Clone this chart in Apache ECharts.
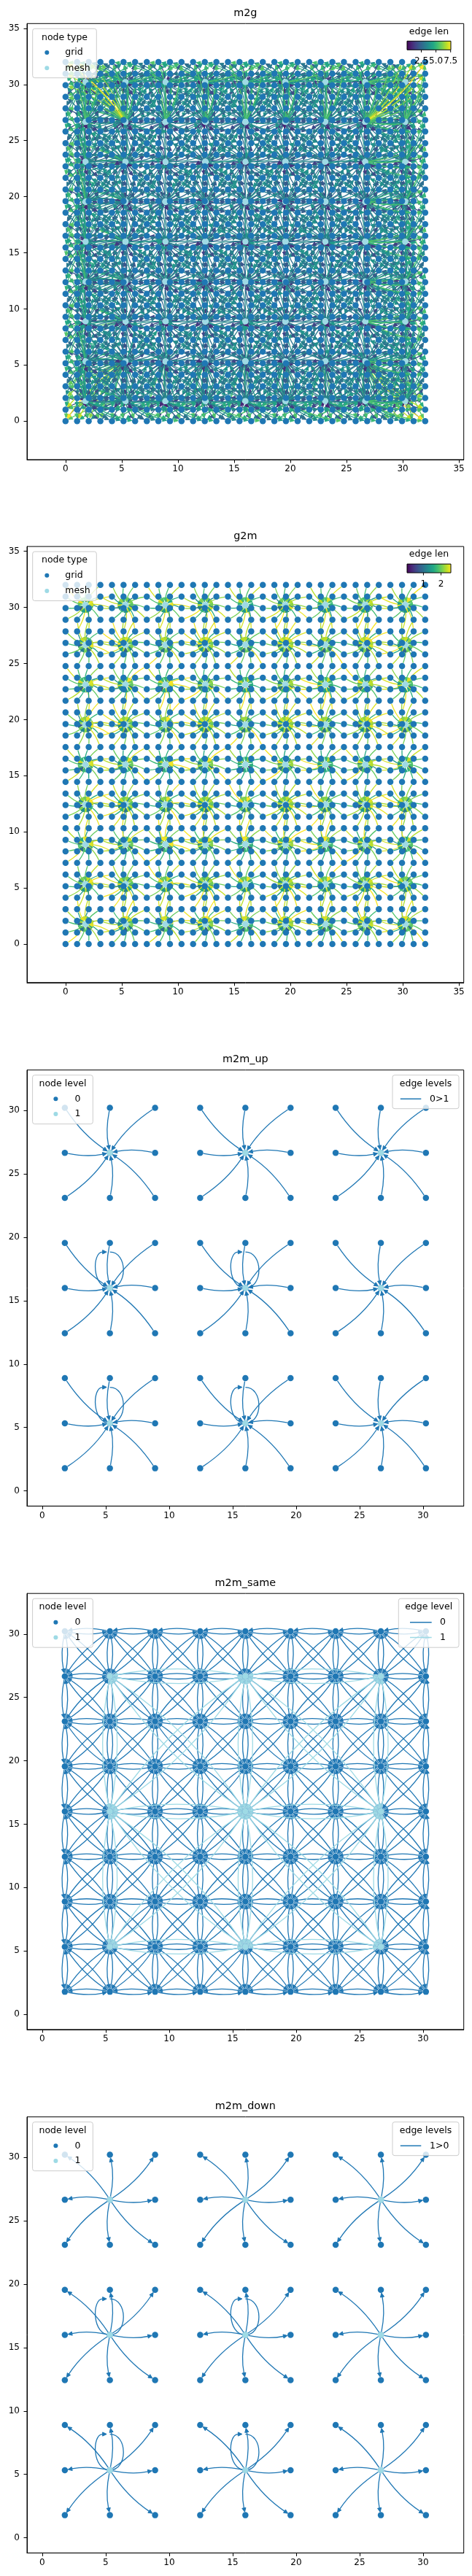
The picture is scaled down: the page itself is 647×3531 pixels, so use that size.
<!DOCTYPE html>
<html>
<head>
<meta charset="utf-8">
<script src="https://cdn.jsdelivr.net/npm/echarts@6/dist/echarts.min.js"></script>
<style>
html, body { margin: 0; padding: 0; background: #fff; }
#chart { width: 647px; height: 3531px; }
</style>
</head>
<body>
<div id="chart"></div>
<script>
// ---- data ----
// grid nodes: 32 x 32 points from 0 to 32
var gridCols = [0, 1.03, 2.06, 3.10, 4.13, 5.16, 6.19, 7.23, 8.26, 9.29, 10.32, 11.35, 12.39, 13.42, 14.45, 15.48,
                16.52, 17.55, 18.58, 19.61, 20.65, 21.68, 22.71, 23.74, 24.77, 25.81, 26.84, 27.87, 28.90, 29.94, 30.97, 32.00];
var gridRows = [0, 1.03, 2.06, 3.10, 4.13, 5.16, 6.19, 7.23, 8.26, 9.29, 10.32, 11.35, 12.39, 13.42, 14.45, 15.48,
                16.52, 17.55, 18.58, 19.61, 20.65, 21.68, 22.71, 23.74, 24.77, 25.81, 26.84, 27.87, 28.90, 29.94, 30.97, 32.00];
// mesh level 0 (9 x 9) and level 1 (3 x 3)
var meshCoords = [1.78, 5.33, 8.89, 12.44, 16.00, 19.56, 23.11, 26.67, 30.22];
var level1Coords = [5.33, 16.00, 26.67];
// level 0 / level 1 nodes that are the same node -> self loops
var loopNodes = [[5.33, 16.00], [16.00, 16.00], [5.33, 5.33], [16.00, 5.33]];
var m2gNeighbours = 4;      // each grid node gets its 4 nearest mesh nodes
var g2mRadius = 2.565;      // grid nodes within this distance feed a mesh node

var titles = ['m2g', 'g2m', 'm2m_up', 'm2m_same', 'm2m_down'];
var bigTicks = [0, 5, 10, 15, 20, 25, 30, 35];
var meshTicks = [0, 5, 10, 15, 20, 25, 30];
var m2gBarTicks = [2.5, 5.0, 7.5];
var m2gBarLabels = ['2.5', '5.0', '7.5'];
var g2mBarTicks = [1, 2];
var g2mBarLabels = ['1', '2'];
var upLegend = ['0>1'];
var sameLegend = ['0', '1'];
var downLegend = ['1>0'];

var viridis = ['#440154', '#482475', '#414487', '#355f8d', '#2a788e', '#21918c',
               '#22a884', '#44bf70', '#7ad151', '#bddf26', '#fde725'];
var DARK = '#1f77b4', LIGHT = '#9edae5';

// ---- layout ----
var AX_L = 37, AX_W = 598.7, AX_H = 597.7;
var tops = [32.3, 749.1, 1466.7, 2184.2, 2901.7];
var FONT = 'DejaVu Sans';
var NODE_R = 4.5, HEAD_L = 5.5, HEAD_W = 2.6, RAD = 0.1, EDGE_W = 1.3;

// ---- build nodes and edges ----
function cross(xs, ys) {
    var out = [];
    ys.forEach(function (y) { xs.forEach(function (x) { out.push([x, y]); }); });
    return out;
}
function dist(p, q) { return Math.sqrt((p[0] - q[0]) * (p[0] - q[0]) + (p[1] - q[1]) * (p[1] - q[1])); }

var gridNodes = cross(gridCols, gridRows);
var meshNodes = cross(meshCoords, meshCoords);
var topNodes = cross(level1Coords, level1Coords);

var m2gEdges = [];
gridNodes.forEach(function (g) {
    meshNodes.map(function (m) { return [dist(m, g), m]; })
        .sort(function (a, b) { return a[0] - b[0]; })
        .slice(0, m2gNeighbours)
        .forEach(function (n) { m2gEdges.push([n[1][0], n[1][1], g[0], g[1], n[0]]); });
});

var g2mEdges = [];
gridNodes.forEach(function (g) {
    meshNodes.forEach(function (m) {
        var d = dist(g, m);
        if (d <= g2mRadius) g2mEdges.push([g[0], g[1], m[0], m[1], d]);
    });
});

var upEdges = [], downEdges = [];
meshCoords.forEach(function (y, j) {
    meshCoords.forEach(function (x, i) {
        var p = [level1Coords[Math.floor(i / 3)], level1Coords[Math.floor(j / 3)]];
        if (dist([x, y], p) > 0.01) {
            upEdges.push([x, y, p[0], p[1], 0]);
            downEdges.push([p[0], p[1], x, y, 0]);
        }
    });
});

var sameEdges = [];
function neighbourEdges(coords, level) {
    var n = coords.length;
    for (var j = 0; j < n; j++) for (var i = 0; i < n; i++)
        for (var dj = -1; dj <= 1; dj++) for (var di = -1; di <= 1; di++) {
            if (!di && !dj) continue;
            var a = i + di, b = j + dj;
            if (a < 0 || b < 0 || a >= n || b >= n) continue;
            sameEdges.push([coords[i], coords[j], coords[a], coords[b], level]);
        }
}
neighbourEdges(meshCoords, 0);
neighbourEdges(level1Coords, 1);

function range(edges) {
    var lo = Infinity, hi = -Infinity;
    edges.forEach(function (e) { lo = Math.min(lo, e[4]); hi = Math.max(hi, e[4]); });
    return [lo, hi];
}
var m2gRange = range(m2gEdges), g2mRange = range(g2mEdges);

function hexRgb(h) { return [parseInt(h.substr(1, 2), 16), parseInt(h.substr(3, 2), 16), parseInt(h.substr(5, 2), 16)]; }
function viridisAt(t) {
    t = Math.max(0, Math.min(1, t));
    var f = t * (viridis.length - 1), k = Math.min(Math.floor(f), viridis.length - 2), r = f - k;
    var a = hexRgb(viridis[k]), b = hexRgb(viridis[k + 1]);
    return 'rgb(' + [0, 1, 2].map(function (c) { return Math.round(a[c] + (b[c] - a[c]) * r); }).join(',') + ')';
}
function lenColor(rng) { return function (v) { return viridisAt((v - rng[0]) / (rng[1] - rng[0])); }; }
function levelColor(v) { return v > 0.5 ? LIGHT : DARK; }

// ---- drawing helpers ----
function unit(x, y) { var n = Math.sqrt(x * x + y * y) || 1; return [x / n, y / n]; }

function makeEdgeRender(colorOf) {
    return function (params, api) {
        var a = api.coord([api.value(0), api.value(1)]);
        var b = api.coord([api.value(2), api.value(3)]);
        var dx = b[0] - a[0], dy = b[1] - a[1];
        if (Math.sqrt(dx * dx + dy * dy) < 2 * NODE_R + 1) return null;
        var color = colorOf(api.value(4));
        // matplotlib arc3 control point, in screen space
        var cp = [(a[0] + b[0]) / 2 - RAD * dy, (a[1] + b[1]) / 2 + RAD * dx];
        var u0 = unit(cp[0] - a[0], cp[1] - a[1]);
        var u1 = unit(b[0] - cp[0], b[1] - cp[1]);
        var s = [a[0] + u0[0] * NODE_R, a[1] + u0[1] * NODE_R];
        var tip = [b[0] - u1[0] * NODE_R, b[1] - u1[1] * NODE_R];
        var base = [tip[0] - u1[0] * HEAD_L, tip[1] - u1[1] * HEAD_L];
        var px = -u1[1] * HEAD_W, py = u1[0] * HEAD_W;
        return {
            type: 'group',
            children: [
                { type: 'bezierCurve', shape: { x1: s[0], y1: s[1], x2: base[0], y2: base[1], cpx1: cp[0], cpy1: cp[1] },
                  style: { stroke: color, fill: null, lineWidth: EDGE_W, opacity: 1 } },
                { type: 'polygon', shape: { points: [tip, [base[0] + px, base[1] + py], [base[0] - px, base[1] - py]] },
                  style: { fill: color, stroke: color, lineWidth: 1, opacity: 1 } }
            ]
        };
    };
}

var LOOP_H = 0.1 * (meshCoords[meshCoords.length - 1] - meshCoords[0]);
function loopRender(params, api) {
    var c = api.coord([api.value(0), api.value(1)]);
    var t = api.coord([api.value(0), api.value(1) + LOOP_H]);
    var w = api.size([LOOP_H / 2, 0])[0];
    var tipX = c[0] - NODE_R, ty = t[1];
    var st = { stroke: DARK, fill: null, lineWidth: EDGE_W };
    return {
        type: 'group',
        children: [
            { type: 'bezierCurve', shape: { x1: c[0], y1: ty, cpx1: c[0] + w, cpy1: ty, cpx2: c[0] + w, cpy2: c[1], x2: c[0], y2: c[1] }, style: st },
            { type: 'bezierCurve', shape: { x1: c[0], y1: c[1], cpx1: c[0] - w, cpy1: c[1], cpx2: c[0] - w, cpy2: ty, x2: tipX - HEAD_L, y2: ty }, style: st },
            { type: 'polygon', shape: { points: [[tipX, ty], [tipX - HEAD_L, ty - HEAD_W], [tipX - HEAD_L, ty + HEAD_W]] },
              style: { fill: DARK, stroke: DARK, lineWidth: 1 } }
        ]
    };
}

function edgeSeries(i, edges, colorOf) {
    return {
        type: 'custom', xAxisIndex: i, yAxisIndex: i, data: edges, silent: true,
        dimensions: ['x1', 'y1', 'x2', 'y2', 'c'],
        encode: { x: [0, 2], y: [1, 3] }, progressive: 0, clip: false,
        renderItem: makeEdgeRender(colorOf)
    };
}
function loopSeries(i) {
    return { type: 'custom', xAxisIndex: i, yAxisIndex: i, data: loopNodes, silent: true,
             encode: { x: 0, y: 1 }, clip: false, renderItem: loopRender };
}
function nodeSeries(i, nodes, color) {
    return { type: 'scatter', xAxisIndex: i, yAxisIndex: i, data: nodes, symbolSize: 8.5, silent: true,
             itemStyle: { color: color, opacity: 1 } };
}

function axis(i, lo, hi, ticks, isX) {
    return {
        type: 'value', gridIndex: i, min: lo, max: hi,
        axisLine: { show: true, onZero: false, lineStyle: { color: '#000', width: 1 } },
        axisTick: { show: true, length: 4.5, lineStyle: { color: '#000', width: 1 }, customValues: ticks },
        axisLabel: { customValues: ticks, color: '#000', fontSize: 12, fontFamily: FONT, margin: isX ? 7 : 10 },
        splitLine: { show: false }
    };
}

function txt(x, y, s, align, size) {
    return { type: 'text', z: 101, style: { text: s, x: x, y: y, fill: '#000', fontSize: size || 12.5,
             fontFamily: FONT, align: align || 'center', verticalAlign: 'middle' } };
}
function box(x, y, w, h) {
    return { type: 'rect', z: 100, shape: { x: x, y: y, width: w, height: h, r: 3 },
             style: { fill: 'rgba(255,255,255,0.8)', stroke: '#cccccc', lineWidth: 1 } };
}
function dot(x, y, color) {
    return { type: 'circle', z: 101, shape: { cx: x, cy: y, r: 3 }, style: { fill: color } };
}
function seg(x1, x2, y, color) {
    return { type: 'line', z: 101, shape: { x1: x1, y1: y, x2: x2, y2: y }, style: { stroke: color, lineWidth: 1.5 } };
}

function nodeTypeLegend(T) {
    return [box(44.7, T + 7, 87.6, 67.4), txt(88.5, T + 19, 'node type'),
            dot(64.3, T + 39.7, DARK), txt(89.3, T + 39.7, 'grid', 'left'),
            dot(64.3, T + 61, LIGHT), txt(89.3, T + 61, 'mesh', 'left')];
}
function nodeLevelLegend(T) {
    return [box(44.6, T + 7, 82.7, 67), txt(86, T + 19, 'node level'),
            dot(76.4, T + 39.6, DARK), txt(102.5, T + 39.6, '0', 'left'),
            dot(76.4, T + 60.3, LIGHT), txt(102.5, T + 60.3, '1', 'left')];
}
function edgeLevelLegend(T, title, labels) {
    if (labels.length === 1) {
        return [box(538, T + 7, 91, 46), txt(583.5, T + 19, title),
                seg(548.8, 577.3, T + 39.6, DARK), txt(589, T + 39.6, labels[0], 'left')];
    }
    return [box(546.3, T + 7, 82.7, 67), txt(587.7, T + 19, title),
            seg(562, 591.7, T + 39.6, DARK), txt(603, T + 39.6, labels[0], 'left'),
            seg(562, 591.7, T + 60.3, LIGHT), txt(603, T + 60.3, labels[1], 'left')];
}
function colorbar(T, rng, ticks, labels) {
    var x0 = 558, x1 = 618, y0 = T + 24, y1 = T + 36;
    var stops = viridis.map(function (c, k) { return { offset: k / (viridis.length - 1), color: c }; });
    var out = [txt((x0 + x1) / 2, T + 11, 'edge len'),
               { type: 'rect', z: 100, shape: { x: x0, y: y0, width: x1 - x0, height: y1 - y0 },
                 style: { fill: { type: 'linear', x: 0, y: 0, x2: 1, y2: 0, colorStops: stops }, stroke: '#000', lineWidth: 1 } }];
    ticks.forEach(function (v, k) {
        var x = x0 + (v - rng[0]) / (rng[1] - rng[0]) * (x1 - x0);
        out.push({ type: 'line', z: 101, shape: { x1: x, y1: y1, x2: x, y2: y1 + 3.5 }, style: { stroke: '#000', lineWidth: 1 } });
        out.push(txt(x, T + 51.5, labels[k], 'center', 12));
    });
    return out;
}

// ---- option ----
var grids = [], xAxes = [], yAxes = [], graphics = [];
tops.forEach(function (T, i) {
    grids.push({ left: AX_L, top: T, width: AX_W, height: AX_H, show: true, borderColor: '#000', borderWidth: 1, backgroundColor: 'transparent' });
    var big = i < 2;
    var lo = big ? -3.43 : -1.2, hi = big ? 35.43 : 33.2;
    xAxes.push(axis(i, lo, hi, big ? bigTicks : meshTicks, true));
    yAxes.push(axis(i, lo, hi, big ? bigTicks : meshTicks, false));
    graphics.push(txt(AX_L + AX_W / 2, T - 14, titles[i], 'center', 14.4));
});

graphics = graphics
    .concat(nodeTypeLegend(tops[0]), colorbar(tops[0], m2gRange, m2gBarTicks, m2gBarLabels))
    .concat(nodeTypeLegend(tops[1]), colorbar(tops[1], g2mRange, g2mBarTicks, g2mBarLabels))
    .concat(nodeLevelLegend(tops[2]), edgeLevelLegend(tops[2], 'edge levels', upLegend))
    .concat(nodeLevelLegend(tops[3]), edgeLevelLegend(tops[3], 'edge level', sameLegend))
    .concat(nodeLevelLegend(tops[4]), edgeLevelLegend(tops[4], 'edge levels', downLegend));

var series = [
    edgeSeries(0, m2gEdges, lenColor(m2gRange)), nodeSeries(0, meshNodes, LIGHT), nodeSeries(0, gridNodes, DARK),
    edgeSeries(1, g2mEdges, lenColor(g2mRange)), nodeSeries(1, meshNodes, LIGHT), nodeSeries(1, gridNodes, DARK),
    edgeSeries(2, upEdges, levelColor), loopSeries(2), nodeSeries(2, meshNodes, DARK), nodeSeries(2, topNodes, LIGHT),
    edgeSeries(3, sameEdges, levelColor), nodeSeries(3, meshNodes, DARK), nodeSeries(3, topNodes, LIGHT),
    edgeSeries(4, downEdges, levelColor), loopSeries(4), nodeSeries(4, meshNodes, DARK), nodeSeries(4, topNodes, LIGHT)
];

var chart = echarts.init(document.getElementById('chart'));
chart.setOption({
    animation: false,
    backgroundColor: '#fff',
    grid: grids,
    xAxis: xAxes,
    yAxis: yAxes,
    graphic: { elements: graphics },
    series: series
});
</script>
</body>
</html>
